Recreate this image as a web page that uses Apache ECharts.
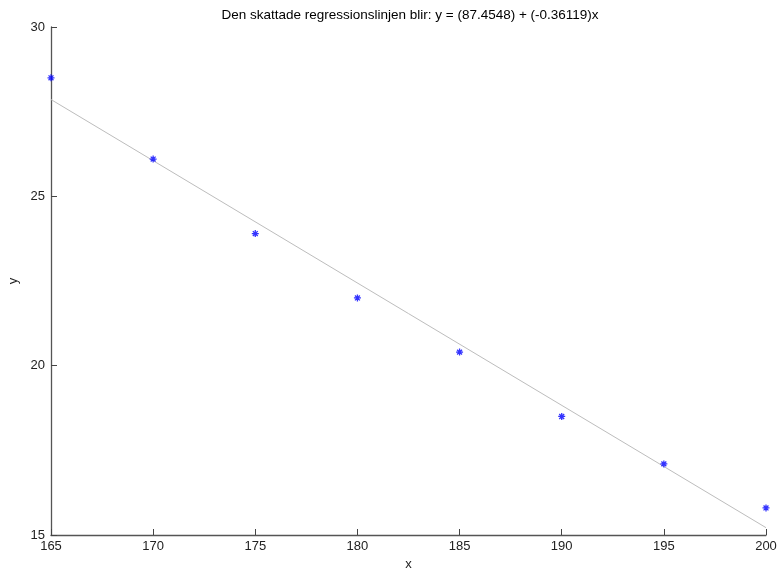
<!DOCTYPE html>
<html>
<head>
<meta charset="utf-8">
<script src="https://cdn.jsdelivr.net/npm/echarts@6/dist/echarts.min.js"></script>
<style>
html,body{margin:0;padding:0;background:#fff;overflow:hidden;width:778px;height:570px;}
#chart{width:778px;height:570px;}
</style>
</head>
<body>
<div id="chart"></div>
<script>
// Observed data
const xValues = [165, 170, 175, 180, 185, 190, 195, 200];
const yValues = [28.5, 26.1, 23.9, 22.0, 20.4, 18.5, 17.1, 15.8];

// Fitted regression coefficients
const intercept = 87.4548;
const slope = -0.36119;
const fitRange = [165, 200];

const xTicks = { min: 165, max: 200, interval: 5 };
const yTicks = { min: 15, max: 30, interval: 5 };

const points = xValues.map((x, i) => [x, yValues[i]]);
const fitLine = fitRange.map(x => [x, intercept + slope * x]);

const font = 'Liberation Sans, Arial, Helvetica, sans-serif';
const asterisk = 'path://M0,-10 L0,10 M-10,0 L10,0 M-7,-7 L7,7 M-7,7 L7,-7';

const chart = echarts.init(document.getElementById('chart'), null, {
  renderer: 'canvas', width: 778, height: 570
});
chart.setOption({
  animation: false,
  backgroundColor: '#fff',
  title: {
    text: 'Den skattade regressionslinjen blir: y = (' + intercept + ') + (' + slope + ')x',
    left: 405, top: 3, textAlign: 'center',
    textStyle: { fontFamily: font, fontSize: 13.5, fontWeight: 'normal', color: '#000' }
  },
  grid: {
    left: 51, right: 12, top: 27, bottom: 35,
    containLabel: false, outerBoundsMode: 'none'
  },
  xAxis: {
    type: 'value', min: xTicks.min, max: xTicks.max, interval: xTicks.interval,
    name: 'x', nameLocation: 'middle', nameGap: 23,
    nameTextStyle: { fontFamily: font, fontSize: 13, color: '#222' },
    axisLine: { lineStyle: { color: '#555', width: 1.3 } },
    axisTick: { inside: true, length: 6, lineStyle: { color: '#444' } },
    axisLabel: { fontFamily: font, fontSize: 13, color: '#222', margin: 5 },
    splitLine: { show: false }
  },
  yAxis: {
    type: 'value', min: yTicks.min, max: yTicks.max, interval: yTicks.interval,
    name: 'y', nameLocation: 'middle', nameGap: 29, nameRotate: 90,
    nameTextStyle: { fontFamily: font, fontSize: 13, color: '#222' },
    axisLine: { show: true, lineStyle: { color: '#555', width: 1.3 } },
    axisTick: { show: true, inside: true, length: 6, lineStyle: { color: '#444' } },
    axisLabel: { fontFamily: font, fontSize: 13, color: '#222', margin: 6 },
    splitLine: { show: false }
  },
  series: [
    {
      type: 'line', data: fitLine, symbol: 'none',
      lineStyle: { color: '#bdbdbd', width: 1 }, z: 1
    },
    {
      type: 'scatter', data: points, symbol: asterisk, symbolSize: 7,
      itemStyle: { color: '#0000ff', borderColor: '#0000ff', borderWidth: 1.3 }, z: 3
    }
  ]
});
</script>
</body>
</html>
